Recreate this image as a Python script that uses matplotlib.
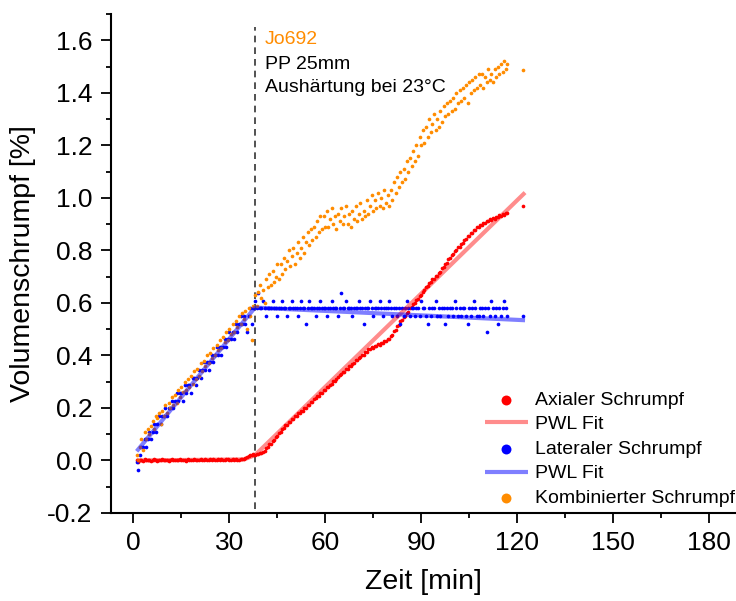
import numpy as np
import matplotlib
matplotlib.use("Agg")
import matplotlib.pyplot as plt
from matplotlib.ticker import MultipleLocator, FormatStrFormatter

plt.rcParams['font.family'] = ['Liberation Sans', 'DejaVu Sans']
plt.rcParams['axes.unicode_minus'] = False

# ---------------- data ----------------
# samples every 0.5 min starting at 1.0 min, last sample at 122 min
t_start, t_step, t_last = 1.0, 0.5, 122.0

axial = [
 0.000,-0.004,0.003,0.001,-0.002,0.004,0.002,0.000,0.003,-0.001,
 0.002,0.004,0.001,-0.001,0.003,0.000,0.005,0.002,0.001,0.003,
 -0.001,0.002,0.004,0.001,0.003,0.000,0.002,0.005,0.001,0.003,
 0.002,-0.001,0.004,0.002,0.003,0.001,0.005,0.002,0.000,0.003,
 0.004,0.001,0.002,0.005,0.003,0.001,0.004,0.002,0.006,0.003,
 0.001,0.004,0.002,0.005,0.003,0.000,0.004,0.006,0.002,0.003,
 0.005,0.002,0.004,0.001,0.003,0.006,0.004,0.007,0.010,0.014,
 0.017,0.020,0.019,0.023,0.022,0.025,0.024,0.028,0.027,0.032,
 0.036,0.047,0.050,0.061,0.064,0.075,0.078,0.090,0.093,0.106,
 0.110,0.120,0.122,0.134,0.136,0.145,0.148,0.157,0.158,0.168,
 0.168,0.179,0.179,0.189,0.190,0.199,0.201,0.211,0.213,0.222,
 0.224,0.233,0.236,0.246,0.247,0.257,0.258,0.268,0.269,0.279,
 0.281,0.289,0.292,0.301,0.303,0.312,0.316,0.325,0.328,0.337,
 0.338,0.348,0.349,0.359,0.359,0.369,0.370,0.381,0.383,0.392,
 0.393,0.402,0.403,0.413,0.413,0.424,0.424,0.432,0.430,0.437,
 0.435,0.443,0.441,0.449,0.448,0.456,0.455,0.464,0.464,0.475,
 0.478,0.493,0.498,0.512,0.516,0.530,0.533,0.547,0.550,0.563,
 0.566,0.580,0.584,0.597,0.599,0.611,0.614,0.627,0.630,0.643,
 0.648,0.662,0.663,0.675,0.678,0.690,0.692,0.703,0.704,0.715,
 0.718,0.731,0.735,0.749,0.753,0.766,0.770,0.784,0.788,0.799,
 0.801,0.812,0.813,0.826,0.828,0.841,0.843,0.854,0.856,0.867,
 0.868,0.877,0.877,0.888,0.888,0.897,0.896,0.906,0.905,0.913,
 0.911,0.919,0.916,0.923,0.920,0.928,0.926,0.933,0.930,0.938,
 0.936,0.944,0.943,0.970]

lateral = [
 -0.007,-0.036,0.022,0.051,0.051,0.081,0.051,0.081,0.110,0.081,
 0.110,0.139,0.110,0.139,0.169,0.139,0.169,0.169,0.198,0.169,
 0.198,0.198,0.227,0.198,0.227,0.256,0.227,0.256,0.256,0.227,
 0.286,0.256,0.286,0.286,0.256,0.315,0.315,0.286,0.315,0.344,
 0.315,0.344,0.374,0.344,0.374,0.344,0.374,0.403,0.374,0.403,
 0.432,0.403,0.432,0.403,0.432,0.462,0.432,0.462,0.491,0.462,
 0.491,0.462,0.520,0.491,0.520,0.550,0.520,0.550,0.520,0.491,
 0.550,0.579,0.520,0.579,
 0.608,0.579,0.637,0.579,0.579,0.608,0.579,0.550,0.579,0.579,
 0.579,0.608,0.579,0.579,0.550,0.579,0.579,0.608,0.579,0.579,
 0.550,0.579,0.579,0.608,0.579,0.579,0.579,0.550,0.579,0.608,
 0.579,0.579,0.520,0.579,0.608,0.579,0.579,0.579,0.550,0.579,
 0.579,0.608,0.579,0.579,0.579,0.550,0.579,0.579,0.608,0.579,
 0.579,0.579,0.550,0.579,0.637,0.579,0.579,0.608,0.579,0.579,
 0.579,0.550,0.579,0.579,0.579,0.608,0.579,0.579,0.520,0.579,
 0.579,0.579,0.608,0.579,0.550,0.579,0.579,0.579,0.608,0.579,
 0.550,0.579,0.579,0.579,0.608,0.579,0.550,0.579,0.579,0.550,
 0.579,0.520,0.579,0.550,0.579,0.608,0.579,0.550,0.579,0.579,
 0.550,0.579,0.579,0.550,0.608,0.579,0.579,0.550,0.520,0.579,
 0.550,0.579,0.579,0.608,0.550,0.579,0.550,0.579,0.579,0.520,
 0.579,0.550,0.579,0.579,0.550,0.608,0.579,0.550,0.579,0.550,
 0.579,0.579,0.550,0.520,0.579,0.550,0.579,0.608,0.579,0.550,
 0.550,0.579,0.579,0.550,0.579,0.491,0.579,0.550,0.608,0.579,
 0.550,0.579,0.520,0.579,0.550,0.579,0.608,0.579,0.550,
 0.550]

combined = [
 0.02,0.00,0.05,0.08,0.04,0.11,0.08,0.12,0.10,0.13,
 0.15,0.12,0.17,0.16,0.18,0.14,0.19,0.17,0.21,0.18,
 0.22,0.20,0.24,0.21,0.25,0.22,0.27,0.24,0.28,0.26,
 0.30,0.27,0.31,0.28,0.32,0.29,0.34,0.31,0.35,0.32,
 0.37,0.34,0.38,0.36,0.40,0.37,0.41,0.39,0.43,0.40,
 0.44,0.42,0.46,0.43,0.47,0.45,0.49,0.46,0.50,0.48,
 0.52,0.49,0.53,0.51,0.55,0.52,0.56,0.54,0.57,0.50,
 0.58,0.55,0.46,0.59,
 0.63,0.59,0.64,0.67,0.62,0.65,0.60,0.69,0.66,0.71,
 0.67,0.72,0.68,0.70,0.75,0.69,0.75,0.71,0.77,0.73,
 0.76,0.80,0.74,0.78,0.81,0.75,0.79,0.83,0.77,0.81,
 0.85,0.79,0.83,0.87,0.82,0.88,0.84,0.89,0.85,0.91,
 0.87,0.93,0.88,0.93,0.89,0.95,0.89,0.92,0.96,0.90,
 0.93,0.88,0.94,0.91,0.96,0.90,0.93,0.97,0.90,0.94,
 0.89,0.95,0.92,0.97,0.91,0.94,0.98,0.92,0.95,0.93,
 0.99,0.94,0.97,1.01,0.95,0.99,0.96,1.02,0.97,1.00,
 0.96,1.03,0.98,1.01,0.97,1.03,0.99,1.06,1.02,1.08,
 1.04,1.10,1.06,1.11,1.07,1.14,1.10,1.15,1.12,1.18,
 1.14,1.20,1.16,1.23,1.20,1.26,1.21,1.27,1.23,1.30,
 1.25,1.28,1.32,1.26,1.30,1.27,1.33,1.29,1.35,1.31,
 1.36,1.32,1.37,1.33,1.38,1.34,1.40,1.36,1.41,1.37,
 1.42,1.38,1.43,1.36,1.44,1.40,1.45,1.41,1.46,1.42,
 1.47,1.43,1.47,1.42,1.46,1.44,1.49,1.45,1.47,1.44,
 1.49,1.46,1.50,1.47,1.51,1.48,1.52,1.49,1.51,
 1.487]

# piecewise-linear fits (breakpoints)
fit_axial_t = [1.0, 34.5, 38.0, 122.5]
fit_axial_y = [0.000, 0.004, 0.020, 1.020]
fit_lat_t = [1.0, 38.0, 122.5]
fit_lat_y = [0.035, 0.582, 0.534]

t_cure = 38.0  # dashed marker line
labels = ["Axialer Schrumpf", "PWL Fit", "Lateraler Schrumpf", "PWL Fit",
          "Kombinierter Schrumpf"]
annot = ["Jo692", "PP 25mm", "Aushärtung bei 23°C"]


def times(v):
    n = len(v)
    return np.append(t_start + t_step * np.arange(n - 1), t_last)


# ---------------- figure ----------------
W, H = 736, 601
fig = plt.figure(figsize=(W / 100, H / 100), dpi=100)
ax = fig.add_axes([110.7 / W, 1 - 513 / H, (W - 110.7) / W, (513 - 14) / H])

c_red = '#ff0000'
c_blue = '#0000ff'
c_orange = '#ff8c00'

ax.plot([t_cure, t_cure], [-0.185, 1.65], color='#333333', lw=1.2,
        ls=(0, (4, 3)), zorder=1)

h1 = ax.scatter(times(axial), axial, s=7, color=c_red, lw=0, zorder=3)
h2, = ax.plot(fit_axial_t, fit_axial_y, color=c_red, lw=3, alpha=0.45,
              solid_capstyle='butt', zorder=4)
h3 = ax.scatter(times(lateral), lateral, s=7, color=c_blue, lw=0, zorder=3)
h4, = ax.plot(fit_lat_t, fit_lat_y, color=c_blue, lw=3, alpha=0.5,
              solid_capstyle='butt', zorder=4)
h5 = ax.scatter(times(combined), combined, s=7, color=c_orange, lw=0, zorder=3)

ax.set_xlim(-7.13, 188.5)
ax.set_ylim(-0.2, 1.7)
ax.xaxis.set_major_locator(MultipleLocator(30))
ax.xaxis.set_minor_locator(MultipleLocator(15))
ax.yaxis.set_major_locator(MultipleLocator(0.2))
ax.yaxis.set_minor_locator(MultipleLocator(0.1))
ax.yaxis.set_major_formatter(FormatStrFormatter('%.1f'))

for s in ['top', 'right']:
    ax.spines[s].set_visible(False)
for s in ['left', 'bottom']:
    ax.spines[s].set_linewidth(1.5)

ax.tick_params(which='major', direction='out', length=7, width=1.3,
               labelsize=19, pad=6)
ax.tick_params(which='minor', direction='out', length=3.5, width=1.3)

ax.set_xlabel("Zeit [min]", fontsize=20.5, labelpad=10)
ax.set_ylabel("Volumenschrumpf [%]", fontsize=20.5, labelpad=8)

ax.text(41.1, 1.604, annot[0], color=c_orange, fontsize=14, va='center')
ax.text(41.1, 1.509, annot[1], color='black', fontsize=14, va='center')
ax.text(41.1, 1.421, annot[2], color='black', fontsize=14, va='center')

leg = fig.legend([h1, h2, h3, h4, h5], labels, loc='upper left',
                 bbox_to_anchor=(485 / W, 1 - 391 / H), frameon=False,
                 fontsize=14, markerscale=2.7, handlelength=2.2,
                 handletextpad=0.35, labelspacing=0.36, borderpad=0,
                 borderaxespad=0)

fig.savefig("out.png", dpi=100)
